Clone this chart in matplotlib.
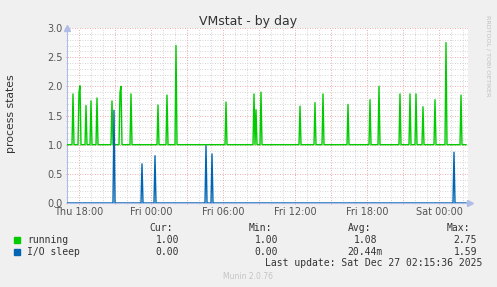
import matplotlib
matplotlib.use("Agg")
import matplotlib.pyplot as plt
import matplotlib.dates as mdates
from matplotlib.ticker import MultipleLocator, FuncFormatter
import pandas as pd

# ---------------- data ----------------
start_time = "2025-12-25 17:00"
last_sample = "2025-12-27 02:15"
view_end = "2025-12-27 02:25"

running_base = 1.0
running_spike_times = [
    "2025-12-25 17:30", "2025-12-25 18:00", "2025-12-25 18:05", "2025-12-25 18:35",
    "2025-12-25 19:00", "2025-12-25 19:30", "2025-12-25 20:45", "2025-12-25 21:25",
    "2025-12-25 21:30", "2025-12-25 22:20", "2025-12-26 00:35", "2025-12-26 01:20",
    "2025-12-26 02:05", "2025-12-26 06:15", "2025-12-26 08:35", "2025-12-26 08:45",
    "2025-12-26 09:10", "2025-12-26 12:25", "2025-12-26 13:40", "2025-12-26 14:20",
    "2025-12-26 16:25", "2025-12-26 18:15", "2025-12-26 19:00", "2025-12-26 20:45",
    "2025-12-26 21:35", "2025-12-26 22:05", "2025-12-26 22:40", "2025-12-26 23:40",
    "2025-12-27 00:35", "2025-12-27 01:50",
]
running_spike_values = [
    1.87, 1.90, 2.01, 1.67,
    1.75, 1.80, 1.75, 1.90,
    2.00, 1.87, 1.68, 1.85,
    2.70, 1.73, 1.87, 1.60,
    1.90, 1.66, 1.72, 1.87,
    1.69, 1.77, 2.00, 1.87,
    1.87, 1.87, 1.65, 1.77,
    2.75, 1.85,
]

iosleep_base = 0.0
iosleep_spike_times = [
    "2025-12-25 20:55", "2025-12-25 23:15", "2025-12-26 00:20",
    "2025-12-26 04:35", "2025-12-26 05:05", "2025-12-27 01:15",
]
iosleep_spike_values = [1.59, 0.67, 0.81, 0.98, 0.84, 0.87]

series_names = ["running", "I/O sleep"]
series_colors = ["#00cc00", "#0066b3"]
stat_headers = ["Cur:", "Min:", "Avg:", "Max:"]
running_stats = [1.00, 1.00, 1.08, 2.75]
iosleep_stats = [0.00, 0.00, 0.02044, 1.59]
title = "VMstat - by day"
ylabel = "process states"
last_update = "Last update: Sat Dec 27 02:15:36 2025"
footer = "Munin 2.0.76"
side_text = "RRDTOOL / TOBI OETIKER"

# ---------------- build series ----------------
times = pd.date_range(start_time, last_sample, freq="5min")
running = pd.Series(running_base, index=times)
running[pd.to_datetime(running_spike_times)] = running_spike_values
iosleep = pd.Series(iosleep_base, index=times)
iosleep[pd.to_datetime(iosleep_spike_times)] = iosleep_spike_values

# ---------------- figure ----------------
W, H = 497, 287
fig = plt.figure(figsize=(W / 100, H / 100), dpi=100, facecolor="#f0f0f0")


def fx(px):
    return px / W


def fy(py):
    return 1 - py / H


ax = fig.add_axes([fx(67), fy(203), fx(468 - 67), (203 - 28) / H])
ax.set_facecolor("white")

ax.plot(times, running.values, color=series_colors[0], lw=1.0, zorder=3)
ax.plot(times, iosleep.values, color=series_colors[1], lw=1.0, zorder=3)

ax.set_xlim(pd.Timestamp(start_time), pd.Timestamp(view_end))
ax.set_ylim(0, 3.0)

# grid
ax.xaxis.set_major_locator(mdates.HourLocator(byhour=range(0, 24, 3)))
ax.xaxis.set_minor_locator(mdates.HourLocator())


def xfmt(x, pos):
    d = mdates.num2date(x)
    if d.hour % 6 == 0:
        return d.strftime("%a %H:%M")
    return ""


ax.xaxis.set_major_formatter(FuncFormatter(xfmt))
ax.yaxis.set_major_locator(MultipleLocator(0.5))
ax.yaxis.set_minor_locator(MultipleLocator(0.1))
ax.yaxis.set_major_formatter(FuncFormatter(lambda v, p: f"{v:.1f}"))

ax.set_axisbelow(True)
ax.grid(which="minor", color="#c8c8c8", linestyle=(0, (1, 2)), linewidth=0.6)
ax.grid(which="major", color="#e89090", linestyle=(0, (1, 2)), linewidth=0.6)

for s in ["top", "right"]:
    ax.spines[s].set_visible(False)
axis_col = "#b0bce8"
ax.spines["left"].set_color(axis_col)
ax.spines["bottom"].set_color(axis_col)
ax.spines["left"].set_linewidth(0.8)
ax.spines["bottom"].set_linewidth(0.8)

ax.tick_params(which="major", length=2, width=0.6, color="#ee8080",
               direction="inout", labelsize=7, labelcolor="#555555", pad=2)
ax.tick_params(which="minor", length=2, width=0.5, color="#cccccc", direction="inout")

# axis arrows
ax.plot([0], [1.0], marker="^", markersize=4, color=axis_col, transform=ax.transAxes,
        clip_on=False, zorder=5)
ax.plot([1.005], [0], marker=">", markersize=4, color=axis_col, transform=ax.transAxes,
        clip_on=False, zorder=5)

# texts
fig.text(fx(248.5), fy(24.5), title, ha="center", va="baseline", fontsize=9, color="#333333")
fig.text(fx(11), fy(114), ylabel, rotation=90, ha="center", va="center",
         fontsize=7.8, color="#333333")
fig.text(fx(488), fy(15), side_text, rotation=270, ha="center", va="top",
         fontsize=4.6, color="#c0c0c0")

mono = "DejaVu Sans Mono"
lfs = 7
hdr_right = [173, 272, 371, 470]
for h, xr in zip(stat_headers, hdr_right):
    fig.text(fx(xr), fy(227.7), h, ha="right", va="center", family=mono,
             fontsize=lfs, color="#333333")


def fmt(v):
    if v != 0 and abs(v) < 1:
        return f"{v * 1000:.2f}m", True
    return f"{v:.2f}", False


val_right = [185, 284, 383, 483]
char_w = 5.9
rows = [(series_names[0], series_colors[0], running_stats, 240),
        (series_names[1], series_colors[1], iosleep_stats, 251.7)]
for name, col, stats, yy in rows:
    fig.patches.append(plt.Rectangle((fx(14), fy(yy + 3)), fx(6), 6 / H,
                                     transform=fig.transFigure, color=col))
    fig.text(fx(27), fy(yy), name, ha="left", va="center", family=mono,
             fontsize=lfs, color="#333333")
    for v, xr in zip(stats, val_right):
        s, suf = fmt(v)
        x = xr if suf else xr - char_w
        fig.text(fx(x), fy(yy), s, ha="right", va="center", family=mono,
                 fontsize=lfs, color="#333333")

fig.text(fx(482), fy(263.3), last_update, ha="right", va="center", family=mono,
         fontsize=lfs, color="#333333")
fig.text(fx(248), fy(276.3), footer, ha="center", va="center", fontsize=5.5,
         color="#c4c4c4")

fig.savefig("out.png", dpi=100, facecolor=fig.get_facecolor())
